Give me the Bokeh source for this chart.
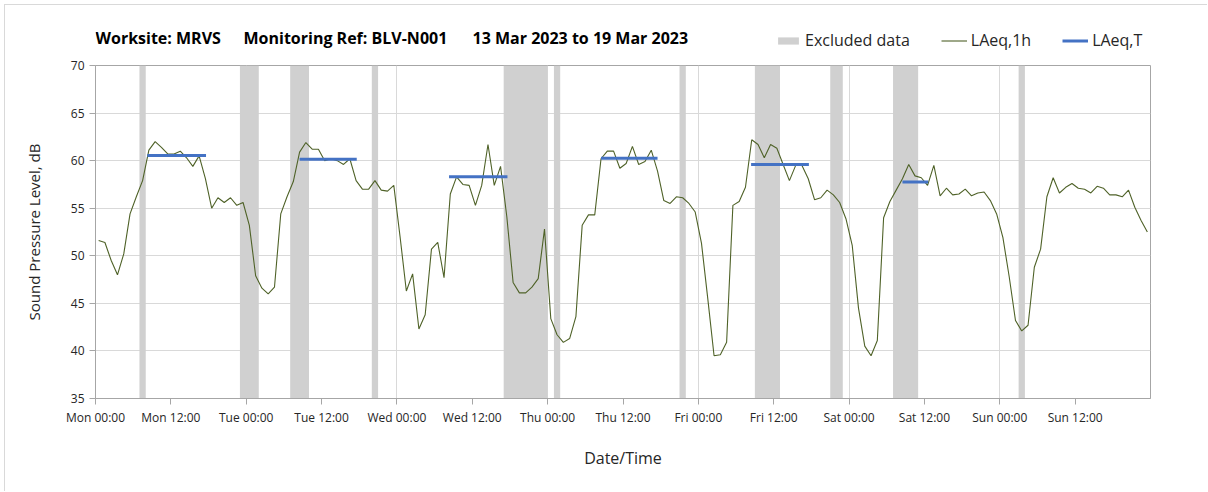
import pandas as pd
from bokeh.plotting import figure
from bokeh.layouts import column
from bokeh.models import (Range1d, FixedTicker, DatetimeTickFormatter, Legend,
                          LegendItem, Label, ColumnDataSource)
from bokeh.embed import file_html
from bokeh.resources import INLINE

# ---------------- data ----------------
period_start = "2023-03-13 00:00"   # Monday
period_end = "2023-03-20 00:00"

# hourly LAeq,1h values (dB), one per hour Mon 00:00 .. Sun 23:00
laeq_1h = [
    51.6, 51.4, 49.5, 48.0, 50.2, 54.4, 56.2, 57.9, 61.1, 62.0, 61.4, 60.7,
    60.7, 61.0, 60.3, 59.4, 60.5, 58.1, 55.0, 56.1, 55.6, 56.1, 55.3, 55.6,
    53.2, 47.9, 46.6, 46.0, 46.7, 54.4, 56.2, 57.8, 60.9, 61.9, 61.2, 61.2,
    60.0, 60.2, 60.0, 59.6, 60.2, 57.9, 57.0, 57.0, 57.9, 56.9, 56.8, 57.4,
    52.0, 46.3, 48.1, 42.3, 43.8, 50.7, 51.4, 47.7, 56.5, 58.3, 57.5, 57.4,
    55.3, 57.4, 61.7, 57.4, 59.4, 54.1, 47.2, 46.1, 46.1, 46.7, 47.6, 52.8,
    43.4, 41.7, 40.9, 41.3, 43.6, 53.2, 54.3, 54.3, 60.2, 61.0, 61.0, 59.2,
    59.7, 61.5, 59.6, 59.9, 61.1, 58.9, 55.8, 55.5, 56.2, 56.1, 55.5, 54.6,
    51.3, 45.5, 39.5, 39.6, 40.9, 55.3, 55.7, 57.2, 62.2, 61.7, 60.3, 61.7,
    61.3, 59.6, 57.9, 59.5, 59.5, 58.1, 55.9, 56.1, 56.9, 56.4, 55.6, 53.9,
    51.1, 44.5, 40.5, 39.5, 41.1, 54.0, 55.7, 56.9, 58.1, 59.6, 58.4, 58.2,
    57.4, 59.5, 56.3, 57.1, 56.4, 56.5, 57.0, 56.3, 56.6, 56.7, 55.8, 54.4,
    51.9, 47.8, 43.2, 42.1, 42.7, 48.8, 50.7, 56.2, 58.2, 56.6, 57.2, 57.6,
    57.1, 57.0, 56.6, 57.3, 57.1, 56.4, 56.4, 56.2, 56.9, 55.1, 53.7, 52.5,
]

# excluded-data periods, hours from Mon 00:00
excluded_start_h = [7, 23, 31, 44, 65, 73, 93, 105, 117, 127, 147]
excluded_end_h = [8, 26, 34, 45, 72, 74, 94, 109, 119, 131, 148]

# LAeq,T over each daytime assessment period (hours from Mon 00:00)
laeq_t_start_h = [8.25, 32.5, 56.3, 80.5, 104.4, 128.5]
laeq_t_end_h = [17.6, 41.6, 65.6, 89.5, 113.6, 132.6]
laeq_t = [60.55, 60.15, 58.3, 60.25, 59.6, 57.75]

y_min, y_max = 35, 70
y_ticks = [35, 40, 45, 50, 55, 60, 65, 70]
x_tick_hours = [0, 12, 24, 36, 48, 60, 72, 84, 96, 108, 120, 132, 144, 156]
x_grid_hours = [24, 48, 72, 96, 120, 144]

title_parts = ["Worksite: MRVS", "Monitoring Ref: BLV-N001", "13 Mar 2023 to 19 Mar 2023"]
legend_labels = ["Excluded data", "LAeq,1h", "LAeq,T"]

# ---------------- build ----------------
t0 = pd.Timestamp(period_start)
t_end = pd.Timestamp(period_end)
hour = pd.Timedelta(hours=1)
t0_ms = t0.value // 10**6
HOUR_MS = 3600 * 1000

times = [t0 + (i + 0.5) * hour for i in range(len(laeq_1h))]
src_line = ColumnDataSource(dict(t=times, v=laeq_1h))
src_excl = ColumnDataSource(dict(
    left=[t0 + h * hour for h in excluded_start_h],
    right=[t0 + h * hour for h in excluded_end_h],
    bottom=[y_min] * len(excluded_start_h),
    top=[y_max] * len(excluded_start_h),
))
src_t = ColumnDataSource(dict(
    x0=[t0 + h * hour for h in laeq_t_start_h],
    x1=[t0 + h * hour for h in laeq_t_end_h],
    y=laeq_t,
))

FONT = "Open Sans"
TXT = "#262626"
GREY_BAND = "#d0d0d0"
GREEN = "#4F6228"
BLUE = "#4472C4"

W = 1203          # layout sits 5px in from the page corner
HEAD_H = 52
MAIN_H = 435
FRAME_W = 1055    # plot-frame width in px (frames of both rows are aligned)


def add_series(fig):
    excl = fig.quad(left="left", right="right", bottom="bottom", top="top",
                    source=src_excl, fill_color=GREY_BAND, line_color=None)
    ln = fig.line("t", "v", source=src_line, line_color=GREEN, line_width=1.1)
    seg = fig.segment(x0="x0", y0="y", x1="x1", y1="y", source=src_t,
                      line_color=BLUE, line_width=3)
    return excl, ln, seg


# ---- main chart ----
p = figure(width=W, height=MAIN_H, output_backend="svg", toolbar_location=None,
           x_axis_type="datetime",
           x_range=Range1d(t0, t_end), y_range=Range1d(y_min, y_max),
           min_border_left=90, min_border_right=58, min_border_top=8,
           min_border_bottom=94)
p.background_fill_color = "white"
p.border_fill_color = "white"
p.outline_line_color = "#a6a6a6"
p.outline_line_width = 1
add_series(p)

fmt = "%a %H:%M"
p.xaxis.ticker = FixedTicker(ticks=[t0_ms + h * HOUR_MS for h in x_tick_hours])
p.xaxis.formatter = DatetimeTickFormatter(
    milliseconds=fmt, seconds=fmt, minsec=fmt, minutes=fmt, hourmin=fmt,
    hours=fmt, days=fmt, months=fmt, years=fmt)
p.yaxis.ticker = FixedTicker(ticks=y_ticks)

for ax in (p.xaxis[0], p.yaxis[0]):
    ax.axis_line_color = "#a6a6a6"
    ax.major_tick_line_color = "#a6a6a6"
    ax.minor_tick_line_color = None
    ax.major_tick_in = 0
    ax.major_tick_out = 6
    ax.major_label_text_font = FONT
    ax.major_label_text_font_size = "12px"
    ax.major_label_text_color = TXT
    ax.axis_label_text_font = FONT
    ax.axis_label_text_font_style = "normal"
    ax.axis_label_text_color = TXT

p.xaxis.axis_label = "Date/Time"
p.xaxis.axis_label_text_font_size = "16px"
p.xaxis.major_label_standoff = 4
p.xaxis.axis_label_standoff = 18
p.yaxis.axis_label = "Sound Pressure Level, dB"
p.yaxis.axis_label_text_font_size = "15px"
p.yaxis.major_label_standoff = 5
p.yaxis.axis_label_standoff = 24

p.xgrid.ticker = FixedTicker(ticks=[t0_ms + h * HOUR_MS for h in x_grid_hours])
p.xgrid.grid_line_color = "#d9d9d9"
p.ygrid.ticker = FixedTicker(ticks=y_ticks)
p.ygrid.grid_line_color = "#d9d9d9"

# ---- header strip: title + legend (pixel coordinates relative to frame) ----
h = figure(width=W, height=HEAD_H, output_backend="svg", toolbar_location=None,
           x_range=Range1d(0, FRAME_W), y_range=Range1d(0, HEAD_H),
           x_axis_location=None, y_axis_location=None,
           min_border_left=90, min_border_right=58,
           min_border_top=0, min_border_bottom=0)
h.grid.visible = False
h.outline_line_color = None
h.background_fill_color = "white"
h.border_fill_color = "white"
# same data (lies outside this strip's ranges) -> used only for legend swatches
h_excl, h_ln, h_seg = add_series(h)

legend = Legend(items=[
    LegendItem(label=legend_labels[0], renderers=[h_excl]),
    LegendItem(label=legend_labels[1], renderers=[h_ln]),
    LegendItem(label=legend_labels[2], renderers=[h_seg]),
], orientation="horizontal", location=(680, 6))
legend.padding = 0
legend.margin = 0
legend.spacing = 31
legend.label_standoff = 4
legend.glyph_width = 26
legend.glyph_height = 9
legend.label_height = 20
legend.label_text_font = FONT
legend.label_text_font_size = "16px"
legend.label_text_color = TXT
legend.border_line_color = None
legend.background_fill_alpha = 0
h.add_layout(legend)

title_x = [0, 148, 377]
for txt, tx in zip(title_parts, title_x):
    h.add_layout(Label(x=tx, y=20, text=txt, text_font=FONT,
                       text_font_size="16px", text_font_style="bold",
                       text_color="black", text_baseline="middle"))

layout = column(h, p, spacing=0, margin=(5, 0, 0, 5),
                styles={"box-shadow": "-1px -1px 0 0 #d9d9d9"})

open("out.html", "w").write(file_html(layout, INLINE))
